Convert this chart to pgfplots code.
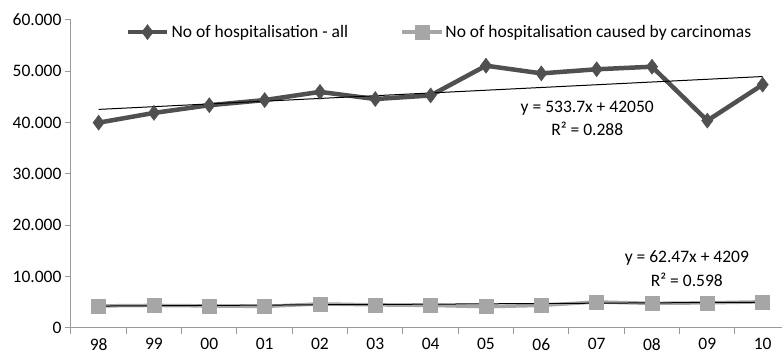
\documentclass[border=0pt]{standalone}
\usepackage{pgfplots}
\pgfplotsset{compat=1.18}
\usepackage{fontspec}
\setmainfont{Carlito}
\definecolor{dark}{HTML}{505050}
\definecolor{light}{HTML}{A6A6A6}
\definecolor{axgray}{HTML}{9A9A9A}
\begin{document}
\begin{tikzpicture}
\begin{axis}[
 scale only axis, width=711pt, height=308pt,
 xmin=-0.5, xmax=12.35, ymin=0, ymax=60000,
 scaled y ticks=false,
 axis x line*=bottom, axis y line*=left,
 axis line style={axgray, line width=1pt, -},
 tick align=outside,
 xtick={0,...,12}, xticklabels={98,99,00,01,02,03,04,05,06,07,08,09,10},
 minor xtick={-0.5,0.5,...,11.5},
 major x tick style={draw=none},
 minor x tick style={axgray, line width=1pt},
 minor tick length=6pt,
 ytick={0,10000,...,60000},
 yticklabels={0,10.000,20.000,30.000,40.000,50.000,60.000},
 y tick style={axgray, line width=1pt},
 major tick length=6pt,
 every tick label/.append style={font=\fontsize{17.5}{20}\selectfont, black},
 xticklabel style={yshift=-1pt},
 legend style={draw=none, fill=none, legend columns=2, at={(0.518,0.99)}, anchor=north,
   font=\fontsize{17.5}{20}\selectfont, /tikz/every even column/.append style={column sep=50pt},
   inner sep=0pt},
 legend image code/.code={\draw[mark repeat=2,mark phase=2,#1] plot coordinates {(0cm,0cm) (0.7cm,0cm) (1.4cm,0cm)};},
]
\addplot[dark, line width=4.5pt, mark=diamond*, mark size=7.5pt, mark options={solid, line width=0.5pt}] coordinates {
(0,40000) (1,41900) (2,43400) (3,44400) (4,46000) (5,44600) (6,45300) (7,51100) (8,49600) (9,50400) (10,50900) (11,40400) (12,47400)};
\addlegendentry{No of hospitalisation - all}
\addplot[light, line width=3.5pt, mark=square*, mark size=7pt, mark options={solid, line width=0.5pt}] coordinates {
(0,4300) (1,4400) (2,4300) (3,4200) (4,4700) (5,4500) (6,4400) (7,4150) (8,4400) (9,5070) (10,4800) (11,4900) (12,5100)};
\addlegendentry{No of hospitalisation caused by carcinomas}
\addplot[black, line width=1pt, forget plot] coordinates {(0,42583.7) (12,48988.1)};
\addplot[black, line width=1pt, forget plot] coordinates {(0,4271.5) (12,5021.1)};
\node[font=\fontsize{17.5}{20}\selectfont] at (axis cs:8.83,42860) {y = 533.7x + 42050};
\node[font=\fontsize{17.5}{20}\selectfont] at (axis cs:8.83,38770) {R² = 0.288};
\node[font=\fontsize{17.5}{20}\selectfont] at (axis cs:10.63,13640) {y = 62.47x + 4209};
\node[font=\fontsize{17.5}{20}\selectfont] at (axis cs:10.63,9350) {R² = 0.598};
\end{axis}
\path (current axis.south west) ++(-71pt,-24pt) coordinate (bbA);
\path (current axis.north east) ++(1pt,20pt) coordinate (bbB);
\path (bbA) rectangle (bbB);
\end{tikzpicture}
\end{document}
